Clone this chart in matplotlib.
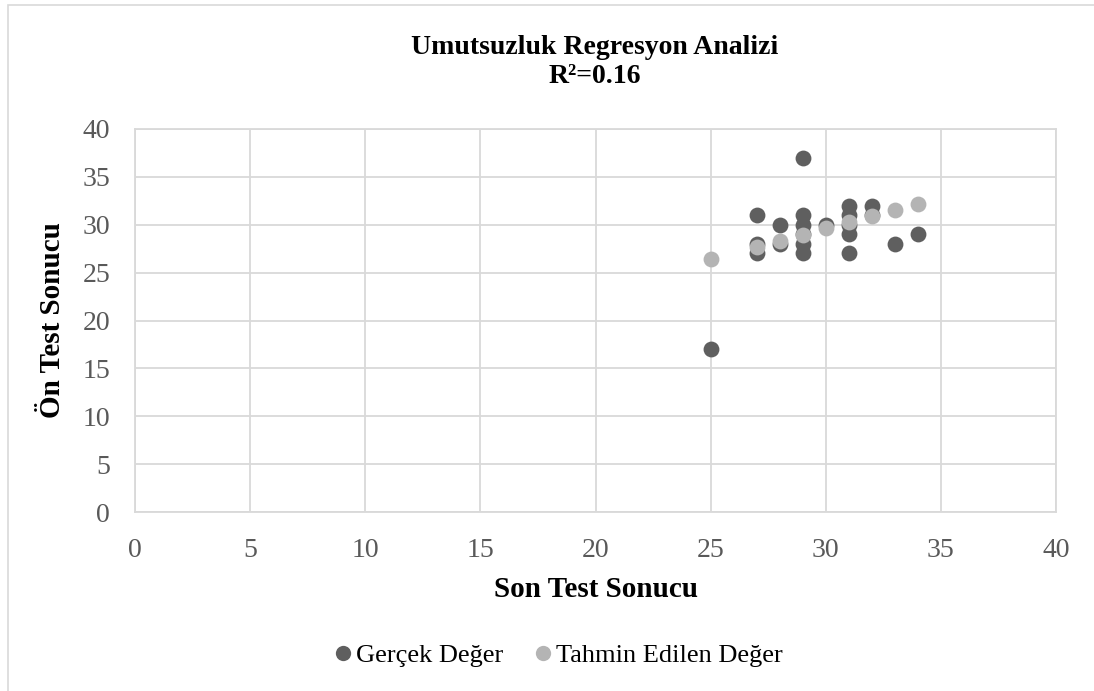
import matplotlib
matplotlib.use("Agg")
import matplotlib.pyplot as plt
from matplotlib.patches import Rectangle
from matplotlib.lines import Line2D

# Data
son_test = [25, 27, 27, 27, 28, 28, 29, 29, 29, 29, 29, 29, 30, 31, 31, 31, 31, 31, 32, 32, 33, 34]
gercek = [17, 31, 28, 27, 30, 28, 37, 31, 30, 29, 28, 27, 30, 32, 31, 30, 29, 27, 32, 31, 28, 29]
tahmin_x = [25, 27, 28, 29, 30, 31, 32, 33, 34]
tahmin = [26.4, 27.7, 28.35, 28.95, 29.65, 30.3, 30.9, 31.55, 32.2]
ticks = [0, 5, 10, 15, 20, 25, 30, 35, 40]

title = "Umutsuzluk Regresyon Analizi\nR²=0.16"
xlabel = "Son Test Sonucu"
ylabel = "Ön Test Sonucu"
legend_labels = ["Gerçek Değer", "Tahmin Edilen Değer"]

dark = "#5f5f5f"
light = "#b4b4b4"
grid = "#d9d9d9"
tickc = "#595959"

plt.rcParams['font.family'] = ['Liberation Serif', 'DejaVu Serif']

fig = plt.figure(figsize=(10.94, 6.91), dpi=100)
fig.patch.set_facecolor("white")

# outer chart border (left and top visible)
fig.patches.append(Rectangle((8/1094, -0.05), 1.2, 1 - 5/691 + 0.05, transform=fig.transFigure,
                             fill=False, edgecolor=grid, linewidth=1.2))

ax = fig.add_axes([135/1094, 1 - 512/691, (1056 - 135)/1094, (512 - 129)/691])
ax.set_xlim(0, 40)
ax.set_ylim(0, 40)
ax.set_xticks(ticks)
ax.set_yticks(ticks)
ax.grid(True, color=grid, linewidth=1.3)
ax.set_axisbelow(True)
for s in ax.spines.values():
    s.set_color(grid)
    s.set_linewidth(1.3)
ax.tick_params(length=0, labelsize=20, labelcolor=tickc)
ax.tick_params(axis='x', pad=19)
ax.tick_params(axis='y', pad=18)

ax.scatter(son_test, gercek, s=130, color=dark, zorder=3, linewidths=0)
ax.scatter(tahmin_x, tahmin, s=130, color=light, zorder=4, linewidths=0)

fig.text(595/1094, 1 - 62/691, title, ha='center', va='center', fontsize=20,
         fontweight='bold', linespacing=1.2)
ax.set_xlabel(xlabel, fontsize=21, fontweight='bold')
ax.set_ylabel(ylabel, fontsize=21, fontweight='bold')
ax.xaxis.set_label_coords(0.5, -(576 - 512)/383)
ax.yaxis.set_label_coords(-(135 - 66)/921, 0.5)

handles = [Line2D([], [], marker='o', linestyle='none', markersize=11, color=dark, markeredgewidth=0),
           Line2D([], [], marker='o', linestyle='none', markersize=11, color=light, markeredgewidth=0)]
fig.legend(handles, legend_labels, loc='center', bbox_to_anchor=(556/1094, 1 - 655/691),
           ncol=2, frameon=False, fontsize=19, handletextpad=0.0, columnspacing=1.0,
           handlelength=1.0)

fig.savefig("out.png", dpi=100)
